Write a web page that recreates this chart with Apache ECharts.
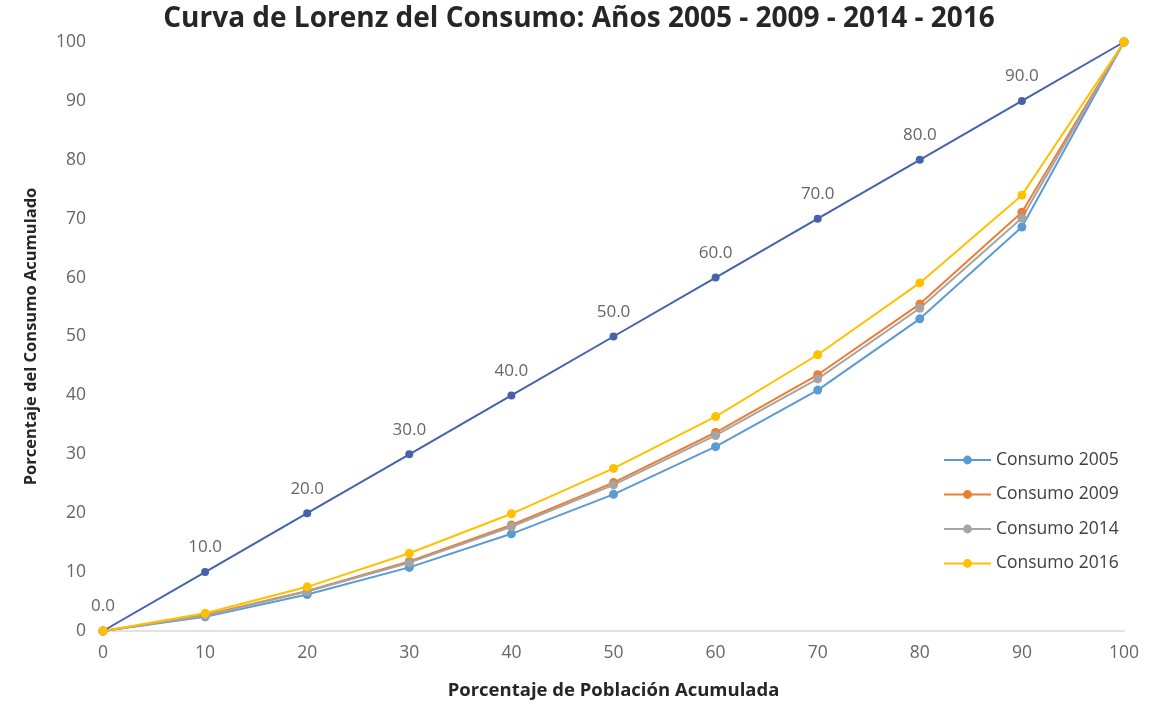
<!DOCTYPE html>
<html>
<head>
<meta charset="utf-8">
<script src="https://cdn.jsdelivr.net/npm/echarts@6/dist/echarts.min.js"></script>
<style>
  html, body { margin: 0; padding: 0; background: #fff; }
  #main { width: 1158px; height: 701px; }
</style>
</head>
<body>
<div id="main"></div>
<script>
// porcentaje de poblacion acumulada (eje x)
const poblacion = [0, 10, 20, 30, 40, 50, 60, 70, 80, 90, 100]
// linea de igualdad
const igualdad = [0, 10, 20, 30, 40, 50, 60, 70, 80, 90, 100]
const consumo2005 = [0, 2.4, 6.2, 10.8, 16.5, 23.2, 31.3, 40.9, 53.0, 68.6, 100]
const consumo2009 = [0, 2.7, 6.8, 11.8, 18.0, 25.2, 33.7, 43.5, 55.5, 71.1, 100]
const consumo2014 = [0, 2.6, 6.7, 11.6, 17.7, 24.8, 33.2, 42.8, 54.8, 70.1, 100]
const consumo2016 = [0, 3.0, 7.5, 13.2, 19.9, 27.6, 36.4, 46.9, 59.1, 74.0, 100]

const pares = arr => poblacion.map((x, i) => [x, arr[i]])

const chart = echarts.init(document.getElementById('main'))

const fuente = 'Open Sans'

const serie = (name, data, color) => ({
  name: name,
  type: 'line',
  data: pares(data),
  symbol: 'circle',
  symbolSize: 9,
  lineStyle: { color: color, width: 2 },
  itemStyle: { color: color },
  z: 3
})

// la etiqueta del ultimo punto (100) no se muestra
const datosIgualdad = pares(igualdad).map((p, i) =>
  i === igualdad.length - 1 ? { value: p, label: { show: false } } : p)

const option = {
  animation: false,
  title: {
    text: 'Curva de Lorenz del Consumo: Años 2005 - 2009 - 2014 - 2016',
    left: 'center',
    top: 0,
    textStyle: { fontFamily: fuente, fontSize: 28, fontWeight: 'bold', color: '#262626' }
  },
  legend: {
    orient: 'vertical',
    left: 938,
    top: 446,
    itemGap: 16.5,
    itemWidth: 47,
    itemHeight: 11,
    data: ['Consumo 2005', 'Consumo 2009', 'Consumo 2014', 'Consumo 2016'],
    textStyle: { fontFamily: fuente, fontSize: 17.5, color: '#404040' }
  },
  grid: { left: 103, right: 34, top: 42, bottom: 70, outerBoundsMode: 'none' },
  xAxis: {
    type: 'value',
    min: 0,
    max: 100,
    interval: 10,
    name: 'Porcentaje de Población Acumulada',
    nameLocation: 'middle',
    nameGap: 50,
    nameTextStyle: { fontFamily: fuente, fontSize: 18.5, fontWeight: 'bold', color: '#262626' },
    axisLine: { lineStyle: { color: '#d9d9d9', width: 1.5 } },
    axisTick: { show: false },
    splitLine: { show: false },
    axisLabel: { fontFamily: fuente, fontSize: 17.5, color: '#666666', margin: 13 }
  },
  yAxis: {
    type: 'value',
    min: 0,
    max: 100,
    interval: 10,
    name: 'Porcentaje del Consumo Acumulado',
    nameLocation: 'middle',
    nameGap: 63,
    nameTextStyle: { fontFamily: fuente, fontSize: 16.5, fontWeight: 'bold', color: '#262626' },
    axisLine: { show: false },
    axisTick: { show: false },
    splitLine: { show: false },
    axisLabel: { fontFamily: fuente, fontSize: 17.5, color: '#666666', margin: 17 }
  },
  series: [
    {
      name: 'Igualdad',
      type: 'line',
      data: datosIgualdad,
      symbol: 'circle',
      symbolSize: 8,
      lineStyle: { color: '#4562ab', width: 2 },
      itemStyle: { color: '#4562ab' },
      label: {
        show: true,
        position: 'top',
        distance: 12,
        formatter: p => p.value[1].toFixed(1),
        fontFamily: fuente,
        fontSize: 17,
        color: '#666666'
      },
      z: 2
    },
    serie('Consumo 2005', consumo2005, '#5b9bd5'),
    serie('Consumo 2009', consumo2009, '#ed7d31'),
    serie('Consumo 2014', consumo2014, '#a5a5a5'),
    serie('Consumo 2016', consumo2016, '#ffc000')
  ]
}

chart.setOption(option)
</script>
</body>
</html>
